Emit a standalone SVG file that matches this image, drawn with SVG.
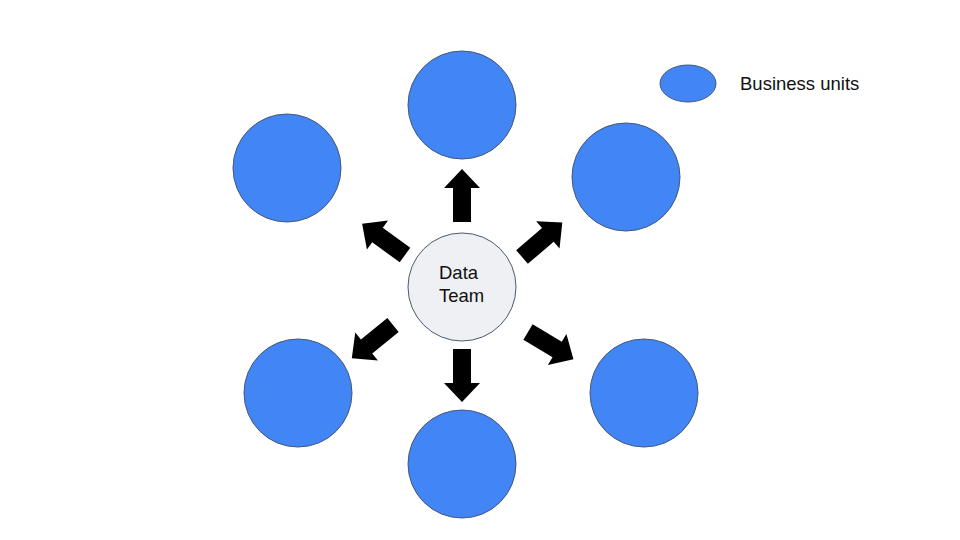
<svg xmlns="http://www.w3.org/2000/svg" width="960" height="540" viewBox="0 0 960 540">
<style>
.bu{fill:#4285f4;stroke:#46587a;stroke-width:1}
.hub{fill:#eef0f3;stroke:#4a5a70;stroke-width:1}
.t{font-family:"Liberation Sans",Arial,sans-serif;font-size:18.5px;fill:#111}
.arr{fill:#000}
</style>
<defs>
<path id="a" d="M0,-9 L34,-9 L34,-18 L53,0 L34,18 L34,9 L0,9 Z"/>
</defs>
<rect width="960" height="540" fill="#fff"/>
<g id="connectors">
<use href="#a" class="arr" transform="translate(462,222) rotate(-90)"/>
<use href="#a" class="arr" transform="translate(462,349) rotate(90)"/>
<use href="#a" class="arr" transform="translate(405,255) rotate(-144)"/>
<use href="#a" class="arr" transform="translate(522,257) rotate(-40.5)"/>
<use href="#a" class="arr" transform="translate(528,332) rotate(31)"/>
<use href="#a" class="arr" transform="translate(393,325) rotate(141)"/>
</g>
<g id="hub"><circle class="hub" cx="462" cy="287" r="54"/>
<text class="t" x="439" y="279">Data</text><text class="t" x="439" y="302">Team</text></g>
<g id="bu-top"><circle class="bu" cx="462" cy="105" r="54"/></g>
<g id="bu-topright"><circle class="bu" cx="626" cy="177" r="54"/></g>
<g id="bu-topleft"><circle class="bu" cx="287" cy="168" r="54"/></g>
<g id="bu-bottomleft"><circle class="bu" cx="298" cy="393" r="54"/></g>
<g id="bu-bottom"><circle class="bu" cx="462" cy="464" r="54"/></g>
<g id="bu-bottomright"><circle class="bu" cx="644" cy="393" r="54"/></g>
<g id="legend"><ellipse class="bu" cx="688" cy="83.5" rx="28" ry="18.5"/>
<text class="t" x="740" y="90">Business units</text></g>
</svg>
